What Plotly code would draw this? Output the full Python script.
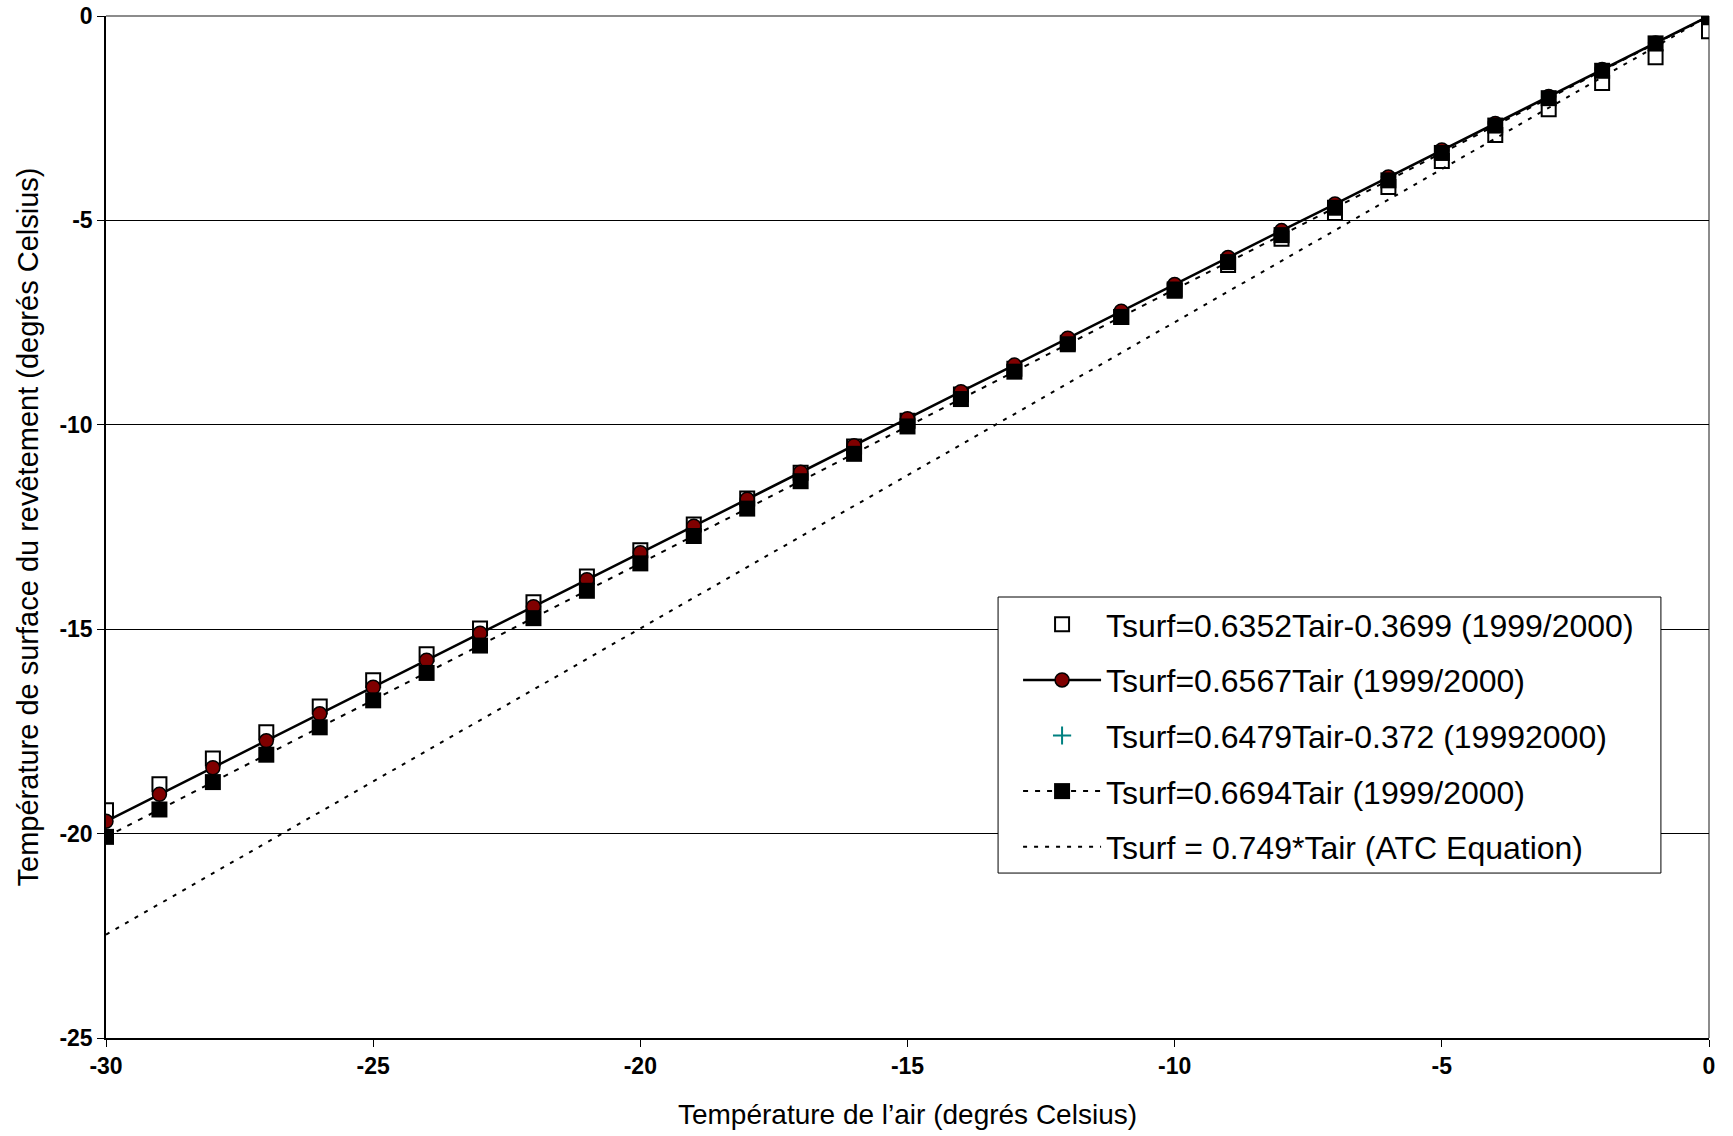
import plotly.graph_objects as go

# Air temperature (degrees Celsius)
tair = [-30, -29, -28, -27, -26, -25, -24, -23, -22, -21, -20, -19, -18, -17, -16,
        -15, -14, -13, -12, -11, -10, -9, -8, -7, -6, -5, -4, -3, -2, -1, 0]

# Tsurf=0.6352Tair-0.3699 (1999/2000) - hollow squares
ts_a = [-19.43, -18.79, -18.16, -17.52, -16.89, -16.25, -15.61, -14.98, -14.34, -13.71,
        -13.07, -12.44, -11.80, -11.17, -10.53, -9.90, -9.26, -8.63, -7.99, -7.36,
        -6.72, -6.09, -5.45, -4.82, -4.18, -3.55, -2.91, -2.28, -1.64, -1.01, -0.37]

# Tsurf=0.6567Tair (1999/2000) - circles, solid line
ts_b = [-19.70, -19.04, -18.39, -17.73, -17.07, -16.42, -15.76, -15.10, -14.45, -13.79,
        -13.13, -12.48, -11.82, -11.16, -10.51, -9.85, -9.19, -8.54, -7.88, -7.22,
        -6.57, -5.91, -5.25, -4.60, -3.94, -3.28, -2.63, -1.97, -1.31, -0.66, 0.00]

# Tsurf=0.6694Tair (1999/2000) - filled squares, dashed line
ts_d = [-20.08, -19.41, -18.74, -18.07, -17.40, -16.74, -16.07, -15.40, -14.73, -14.06,
        -13.39, -12.72, -12.05, -11.38, -10.71, -10.04, -9.37, -8.70, -8.03, -7.36,
        -6.69, -6.02, -5.36, -4.69, -4.02, -3.35, -2.68, -2.01, -1.34, -0.67, 0.00]

# Tsurf = 0.749*Tair (ATC Equation) - dotted line, end points
atc_x = [-30, 0]
atc_y = [-22.47, 0.00]

names = [
    "Tsurf=0.6352Tair-0.3699 (1999/2000)",
    "Tsurf=0.6567Tair (1999/2000)",
    "Tsurf=0.6479Tair-0.372 (19992000)",
    "Tsurf=0.6694Tair (1999/2000)",
    "Tsurf = 0.749*Tair (ATC Equation)",
]

x_ticks = [-30, -25, -20, -15, -10, -5, 0]
y_ticks = [-25, -20, -15, -10, -5, 0]

FONT = "Liberation Sans, Arial, sans-serif"

fig = go.Figure()

fig.add_trace(go.Scatter(
    x=tair, y=ts_a, mode="markers", name=names[0], legendgroup="a",
    marker=dict(symbol="square-open", size=14, color="black", line=dict(width=2)),
))
fig.add_trace(go.Scatter(
    x=tair, y=ts_b, mode="lines+markers", name=names[1], legendgroup="b",
    line=dict(color="black", width=2.5),
    marker=dict(symbol="circle", size=14, color="#800000", line=dict(color="black", width=1.5)),
))
# series shown only in the legend (no points visible on the plot)
fig.add_trace(go.Scatter(
    x=[None], y=[None], mode="markers", name=names[2], legendgroup="c",
    marker=dict(symbol="cross-thin", size=13, color="#008080", line=dict(color="#008080", width=2)),
))
fig.add_trace(go.Scatter(
    x=tair, y=ts_d, mode="lines+markers", name=names[3], legendgroup="d",
    line=dict(color="black", width=2, dash="5px,7px"),
    marker=dict(symbol="square", size=16, color="black"),
))
fig.add_trace(go.Scatter(
    x=atc_x, y=atc_y, mode="lines", name=names[4], legendgroup="e",
    line=dict(color="black", width=2, dash="4px,7px"),
))

tick_common = dict(
    showline=True, linecolor="black", linewidth=1.5, zeroline=False, automargin=False,
    ticks="outside", ticklen=7, tickcolor="black", tickwidth=1,
    ticklabeloverflow="allow",
    tickfont=dict(size=23, family=FONT, weight="bold"),
)

fig.update_layout(
    width=1733, height=1136,
    margin=dict(l=106, r=24, t=16, b=98),
    plot_bgcolor="white", paper_bgcolor="white",
    font=dict(family=FONT, color="black"),
    showlegend=True,
    legend=dict(
        x=0.5565, y=0.4315, xanchor="left", yanchor="top",
        borderwidth=0, bgcolor="rgba(0,0,0,0)",
        font=dict(size=32, family=FONT),
        tracegroupgap=11, itemwidth=78, indentation=20,
    ),
    xaxis=dict(
        range=[-30, 0], tickvals=x_ticks, ticktext=[str(v) for v in x_ticks],
        showgrid=False,
        title=dict(text="Température de l’air (degrés Celsius)", font=dict(size=28), standoff=26),
        **tick_common,
    ),
    yaxis=dict(
        range=[-25, 0], tickvals=y_ticks, ticktext=[str(v) for v in y_ticks],
        showgrid=True, gridcolor="black", gridwidth=1,
        title=dict(text="Température de surface du revêtement (degrés Celsius)", font=dict(size=29), standoff=12),
        **tick_common,
    ),
    shapes=[
        dict(type="line", xref="paper", yref="paper", x0=0, x1=1, y0=1, y1=1,
             line=dict(color="#8c8c8c", width=2), layer="below"),
        dict(type="line", xref="paper", yref="paper", x0=1, x1=1, y0=0, y1=1,
             line=dict(color="#8c8c8c", width=2), layer="below"),
        # legend frame
        dict(type="rect", xref="paper", yref="paper", x0=0.5565, x1=0.970, y0=0.1614, y1=0.4315,
             fillcolor="white", line=dict(color="black", width=1), layer="above"),
    ],
)

fig.write_html(
    "out.html",
    config={"displayModeBar": False},
    post_script="document.body.style.margin='0';document.body.style.overflow='hidden';",
)
